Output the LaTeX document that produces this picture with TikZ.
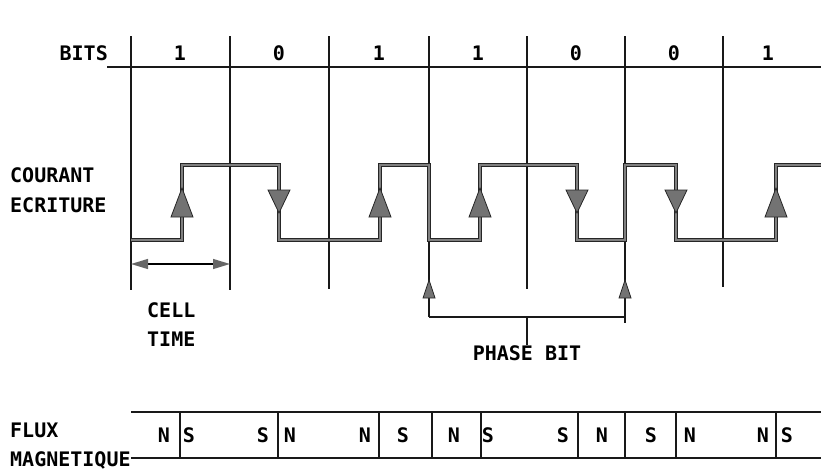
\documentclass[tikz,border=0pt]{standalone}
\usepackage{fontspec}
\setmonofont{DejaVu Sans Mono}
\usepackage{tikz}
\usetikzlibrary{arrows.meta, positioning}
\tikzstyle{tag} = [font=\ttfamily\bfseries\fontsize{20}{23}\selectfont,
inner sep=0pt]
\tikzstyle{cellline} = [line width=1.3pt, draw=black!90]
\tikzstyle{rule} = [line width=1.6pt, draw=black!90]
\tikzstyle{current} = [line width=0.9pt, draw=black!85,
double=black!50, double distance=2.2pt, line join=miter]
\tikzstyle{head} = [fill=black!55, draw=black!85, line width=0.8pt]
\tikzstyle{arrow} = [line width=1.3pt,
{Triangle[length=17pt,width=10pt,color=black!60]}-{Triangle[length=17pt,width=10pt,color=black!60]}]

\begin{document}
\begin{tikzpicture}[x=1pt, y=-1pt]
        \useasboundingbox (0,0) rectangle (821,471);

        % --- Textes de gauche ---
        \node (bits) [tag, anchor=east] at (108,53) {BITS};
        \node (courant) [tag, anchor=west] at (10,175) {COURANT};
        \node (ecriture) [tag, anchor=west] at (10,205) {ECRITURE};
        \node (cell) [tag, anchor=west] at (147,310) {CELL};
        \node (time) [tag, anchor=west] at (147,339) {TIME};
        \node (phase) [tag] at (527,353) {PHASE BIT};
        \node (flux) [tag, anchor=west] at (10,430) {FLUX};
        \node (magn) [tag, anchor=west] at (10,460) {MAGNETIQUE};

        % --- Ligne des bits ---
        \coordinate (bitsend) at (821,67);
        \draw [rule] (107,67) -- (bitsend);
        \foreach \x/\b [count=\i] in {180/1, 279/0, 379/1, 478/1, 576/0, 674/0, 768/1}
            \node (bit\i) [tag] at (\x,53) {\b};

        % --- Limites des cellules ---
        \foreach \x/\y in {131/290, 230/290, 329/289, 429/317, 527/289, 625/323, 723/287}
            \draw [cellline] (\x,36) -- (\x,\y);

        % --- Courant d'ecriture ---
        \draw [current] (131,240) -- (182,240) -- (182,165) -- (279,165) -- (279,240)
            -- (380,240) -- (380,165) -- (429,165) -- (429,240) -- (480,240)
            -- (480,165) -- (577,165) -- (577,240) -- (625,240) -- (625,165)
            -- (676,165) -- (676,240) -- (776,240) -- (776,165) -- (821,165);
        \foreach \x in {182, 380, 480, 776}
            \draw [head] (\x,188) -- (\x-11,217) -- (\x+11,217) -- cycle;
        \foreach \x in {279, 577, 676}
            \draw [head] (\x,213) -- (\x-11,190) -- (\x+11,190) -- cycle;

        % --- Cell time ---
        \coordinate (ct1) at (131,264);
        \coordinate (ct2) at (230,264);
        \draw [arrow] (ct1) -- (ct2);

        % --- Phase bit ---
        \coordinate (ph1) at (429,317);
        \coordinate (ph2) at (625,317);
        \draw [cellline] (ph1) -- (ph2);
        \draw [cellline] (527,317) -- (phase.north);
        \foreach \x in {429, 625}
            \draw [head] (\x,280) -- (\x-6,298) -- (\x+6,298) -- cycle;

        % --- Flux magnetique ---
        \draw [rule] (131,412) -- (821,412);
        \draw [rule] (magn.east) ++(0,-2) -- (821,458);
        \foreach \x in {180, 278, 379, 432, 481, 578, 625, 676, 776}
            \draw [cellline] (\x,412) -- (\x,458);
        \foreach \x/\p [count=\i] in {164/N, 189/S, 263/S, 290/N, 365/N, 403/S, 454/N,
                           488/S, 563/S, 602/N, 651/S, 690/N, 763/N, 787/S}
            \node (pole\i) [tag] at (\x,435) {\p};

\end{tikzpicture}
\end{document}
